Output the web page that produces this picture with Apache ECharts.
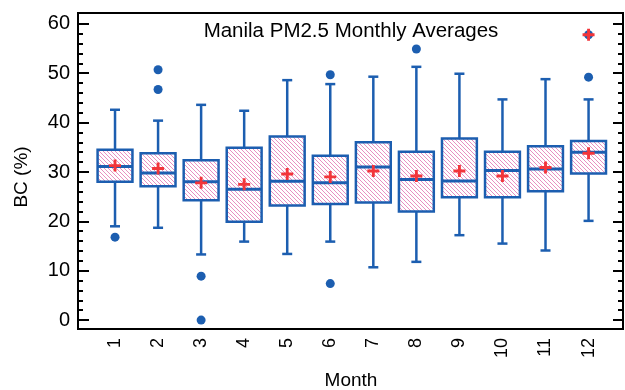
<!DOCTYPE html>
<html>
<head>
<meta charset="utf-8">
<script src="https://cdn.jsdelivr.net/npm/echarts@6/dist/echarts.min.js"></script>
<style>
  html, body { margin: 0; padding: 0; background: #fff; }
  #chart { width: 625px; height: 390px; }
</style>
</head>
<body>
<div id="chart"></div>
<script>
// Monthly BC (%) distribution summaries
const months      = [1, 2, 3, 4, 5, 6, 7, 8, 9, 10, 11, 12];
const whiskerLow  = [19.0, 18.7, 13.3, 15.9, 13.4, 15.9, 10.7, 11.8, 17.2, 15.5, 14.1, 20.1];
const quart1      = [28.0, 27.1, 24.3, 19.9, 23.2, 23.5, 23.8, 22.0, 24.9, 24.9, 26.1, 29.7];
const medians     = [31.1, 29.8, 28.0, 26.5, 28.1, 27.8, 31.0, 28.5, 28.2, 30.3, 30.6, 34.0];
const quart3      = [34.5, 33.8, 32.4, 34.9, 37.2, 33.3, 36.0, 34.1, 36.8, 34.1, 35.2, 36.3];
const whiskerHigh = [42.6, 40.4, 43.6, 42.4, 48.6, 47.8, 49.3, 51.3, 49.9, 44.7, 48.8, 44.7];
const means       = [31.3, 30.7, 27.8, 27.5, 29.6, 29.0, 30.2, 29.2, 30.2, 29.2, 30.9, 33.8];
// outlying observations: [month, value]
const outliers    = [[1, 16.8], [2, 46.7], [2, 50.7], [3, 8.9], [3, 0.0],
                     [6, 49.7], [6, 7.4], [8, 54.9], [12, 49.2], [12, 57.8]];
// extra marked point (red cross drawn over the dot)
const marked      = [[12, 57.8]];
const majorTicks  = [0, 10, 20, 30, 40, 50, 60];
const minorTicks  = [0, 2, 4, 6, 8, 10, 12, 14, 16, 18, 20, 22, 24, 26, 28, 30, 32, 34, 36, 38,
                     40, 42, 44, 46, 48, 50, 52, 54, 56, 58, 60];

const BLUE = '#1c5eb0';
const RED = '#f2353a';
const PINK = '#e272b3';
const FONT = '"Liberation Sans", Arial, sans-serif';

// diagonal hatch tile for the box interiors
function hatchPattern() {
  const s = 4;
  const c = document.createElement('canvas');
  c.width = s; c.height = s;
  const g = c.getContext('2d');
  g.fillStyle = '#fff';
  g.fillRect(0, 0, s, s);
  g.strokeStyle = PINK;
  g.lineWidth = 0.8;
  g.beginPath();
  g.moveTo(-1, -1); g.lineTo(s + 1, s + 1);
  g.moveTo(-1, s - 1); g.lineTo(1, s + 1);
  g.moveTo(s - 1, -1); g.lineTo(s + 1, 1);
  g.stroke();
  return { image: c, repeat: 'repeat' };
}
const hatch = hatchPattern();

const boxData = months.map((m, i) =>
  [m, whiskerLow[i], quart1[i], medians[i], quart3[i], whiskerHigh[i]]);
const meanData = months.map((m, i) => [m, means[i]]);

const plusPath = 'path://M3.8,0h2.4v3.8h3.8v2.4h-3.8v3.8h-2.4v-3.8h-3.8v-2.4h3.8z';

function renderBox(params, api) {
  const x = api.value(0);
  const pLow = api.coord([x, api.value(1)]);
  const pQ1 = api.coord([x, api.value(2)]);
  const pMed = api.coord([x, api.value(3)]);
  const pQ3 = api.coord([x, api.value(4)]);
  const pHigh = api.coord([x, api.value(5)]);
  const cx = pLow[0];
  const half = api.size([0.81, 0])[0] / 2;
  const cap = 5;
  const ls = { stroke: BLUE, lineWidth: 2.5 };
  return {
    type: 'group',
    children: [
      { type: 'line', shape: { x1: cx, y1: pLow[1], x2: cx, y2: pQ1[1] }, style: ls },
      { type: 'line', shape: { x1: cx, y1: pQ3[1], x2: cx, y2: pHigh[1] }, style: ls },
      { type: 'line', shape: { x1: cx - cap, y1: pLow[1], x2: cx + cap, y2: pLow[1] }, style: ls },
      { type: 'line', shape: { x1: cx - cap, y1: pHigh[1], x2: cx + cap, y2: pHigh[1] }, style: ls },
      { type: 'rect',
        shape: { x: cx - half, y: pQ3[1], width: half * 2, height: pQ1[1] - pQ3[1] },
        style: { fill: hatch, stroke: BLUE, lineWidth: 2.5 } },
      { type: 'line', shape: { x1: cx - half, y1: pMed[1], x2: cx + half, y2: pMed[1] },
        style: { stroke: BLUE, lineWidth: 3 } }
    ]
  };
}

const yRange = { min: -1.8, max: 62.2 };
function yAxisDef(pos, values, len, labels) {
  return {
    type: 'value', position: pos, min: yRange.min, max: yRange.max,
    axisLine: { show: false },
    splitLine: { show: false },
    axisTick: { show: true, inside: true, length: len, customValues: values,
                lineStyle: { color: '#000', width: 2 } },
    axisLabel: labels ? { show: true, customValues: values, color: '#000',
                          fontSize: 20, fontFamily: FONT, margin: 8 } : { show: false }
  };
}

const chart = echarts.init(document.getElementById('chart'), null, { renderer: 'canvas' });
chart.setOption({
  animation: false,
  backgroundColor: '#fff',
  grid: { left: 78, right: 2, top: 13, bottom: 61, show: true,
          borderColor: '#000', borderWidth: 2, backgroundColor: 'transparent' },
  xAxis: {
    type: 'value', min: 0.14, max: 12.8,
    axisLine: { show: false }, axisTick: { show: false }, splitLine: { show: false },
    axisLabel: { customValues: months, rotate: 90, margin: 9, color: '#000',
                 fontSize: 18, fontFamily: FONT }
  },
  yAxis: [
    yAxisDef('left', majorTicks, 11, true),
    yAxisDef('left', minorTicks, 5, false),
    yAxisDef('right', majorTicks, 10, false),
    yAxisDef('right', minorTicks, 5, false)
  ],
  graphic: [
    { type: 'text', x: 351, y: 31,
      style: { text: 'Manila PM2.5 Monthly Averages', fill: '#000', fontSize: 20.5,
               fontFamily: FONT, align: 'center', verticalAlign: 'middle' } },
    { type: 'text', x: 22, y: 177, rotation: Math.PI / 2,
      style: { text: 'BC (%)', fill: '#000', fontSize: 19, fontFamily: FONT,
               align: 'center', verticalAlign: 'middle' } },
    { type: 'text', x: 351, y: 381,
      style: { text: 'Month', fill: '#000', fontSize: 19, fontFamily: FONT,
               align: 'center', verticalAlign: 'middle' } }
  ],
  series: [
    { type: 'custom', renderItem: renderBox, data: boxData, yAxisIndex: 0, z: 2 },
    { type: 'scatter', data: outliers, symbol: 'circle', symbolSize: 9,
      itemStyle: { color: BLUE, opacity: 1 }, yAxisIndex: 0, z: 3 },
    { type: 'scatter', data: meanData, symbol: plusPath, symbolSize: 12,
      itemStyle: { color: RED, opacity: 1 }, yAxisIndex: 0, z: 4 },
    { type: 'scatter', data: marked, symbol: plusPath, symbolSize: 12,
      itemStyle: { color: RED, opacity: 1 }, yAxisIndex: 0, z: 4 }
  ]
});
</script>
</body>
</html>
